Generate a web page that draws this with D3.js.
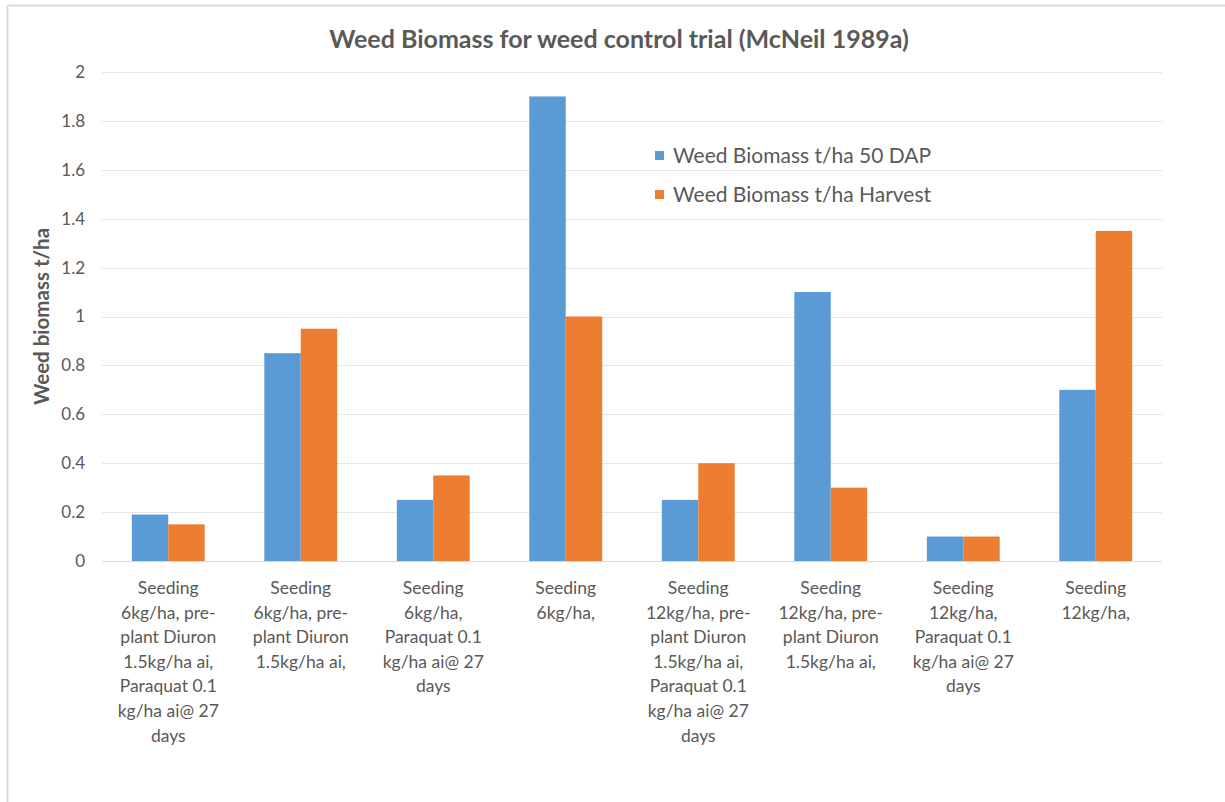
<!DOCTYPE html>
<html>
<head>
<meta charset="utf-8">
<script src="https://cdn.jsdelivr.net/npm/d3@7"></script>
<style>
  html, body { margin: 0; padding: 0; background: #fff; }
  svg { display: block; font-family: Lato, "Open Sans", sans-serif; }
</style>
</head>
<body>
<svg id="chart" width="1225" height="802"></svg>
<script>
// Treatments (x categories), each label split into its wrapped lines
const categories = [
  ["Seeding", "6kg/ha, pre-", "plant Diuron", "1.5kg/ha ai,", "Paraquat 0.1", "kg/ha ai@ 27", "days"],
  ["Seeding", "6kg/ha, pre-", "plant Diuron", "1.5kg/ha ai,"],
  ["Seeding", "6kg/ha,", "Paraquat 0.1", "kg/ha ai@ 27", "days"],
  ["Seeding", "6kg/ha,"],
  ["Seeding", "12kg/ha, pre-", "plant Diuron", "1.5kg/ha ai,", "Paraquat 0.1", "kg/ha ai@ 27", "days"],
  ["Seeding", "12kg/ha, pre-", "plant Diuron", "1.5kg/ha ai,"],
  ["Seeding", "12kg/ha,", "Paraquat 0.1", "kg/ha ai@ 27", "days"],
  ["Seeding", "12kg/ha,"]
];

const seriesNames = ["Weed Biomass t/ha 50 DAP", "Weed Biomass t/ha Harvest"];
const biomass50DAP = [0.19, 0.85, 0.25, 1.9, 0.25, 1.1, 0.1, 0.7];
const biomassHarvest = [0.15, 0.95, 0.35, 1.0, 0.4, 0.3, 0.1, 1.35];
const yTicks = [0, 0.2, 0.4, 0.6, 0.8, 1, 1.2, 1.4, 1.6, 1.8, 2];

const colors = ["#5B9BD5", "#ED7D31"];
const textColor = "#595959";

const svg = d3.select("#chart");

// outer chart frame (top and left edges)
svg.append("line").attr("x1", 7.5).attr("x2", 1225).attr("y1", 5.5).attr("y2", 5.5)
  .attr("stroke", "#d9d9d9").attr("stroke-width", 2);
svg.append("line").attr("x1", 7.5).attr("x2", 7.5).attr("y1", 5.5).attr("y2", 802)
  .attr("stroke", "#d9d9d9").attr("stroke-width", 2);

const plot = { left: 102, right: 1162, top: 72, bottom: 561 };

const x0 = d3.scaleBand()
  .domain(d3.range(categories.length))
  .range([plot.left, plot.right])
  .paddingInner(0.45)
  .paddingOuter(0.225);

const x1 = d3.scaleBand()
  .domain([0, 1])
  .range([0, x0.bandwidth()]);

const y = d3.scaleLinear().domain([0, 2]).range([plot.bottom, plot.top]);

// horizontal gridlines
svg.append("g")
  .selectAll("line")
  .data(yTicks)
  .join("line")
  .attr("x1", plot.left).attr("x2", plot.right)
  .attr("y1", d => Math.round(y(d)) + 0.5).attr("y2", d => Math.round(y(d)) + 0.5)
  .attr("stroke", "#e6e6e6").attr("stroke-width", 1.2);

// y axis tick labels
const yAxis = d3.axisLeft(y).tickValues(yTicks).tickSize(0).tickPadding(0).tickFormat(d3.format("~g"));
const gy = svg.append("g").attr("transform", `translate(${plot.left - 17},0)`).call(yAxis);
gy.select(".domain").remove();
gy.selectAll("text")
  .attr("fill", textColor)
  .attr("font-size", 17)
  .attr("font-family", "Lato, sans-serif");

// bars
const groups = svg.append("g")
  .selectAll("g")
  .data(categories.map((c, i) => i))
  .join("g")
  .attr("transform", i => `translate(${x0(i)},0)`);

groups.selectAll("rect")
  .data(i => [biomass50DAP[i], biomassHarvest[i]])
  .join("rect")
  .attr("x", (d, j) => x1(j))
  .attr("y", d => y(d))
  .attr("width", x1.bandwidth())
  .attr("height", d => y(0) - y(d))
  .attr("fill", (d, j) => colors[j]);

// baseline
svg.append("line")
  .attr("x1", plot.left).attr("x2", plot.right)
  .attr("y1", plot.bottom + 0.5).attr("y2", plot.bottom + 0.5)
  .attr("stroke", "#d9d9d9").attr("stroke-width", 1);

// category labels
const labels = svg.append("g")
  .selectAll("text")
  .data(categories)
  .join("text")
  .attr("text-anchor", "middle")
  .attr("fill", textColor)
  .attr("font-size", 17.5)
  .attr("x", (d, i) => x0(i) + x0.bandwidth() / 2)
  .attr("y", 594);
labels.selectAll("tspan")
  .data(d => d)
  .join("tspan")
  .attr("x", function () { return d3.select(this.parentNode).attr("x"); })
  .attr("dy", (d, k) => k === 0 ? 0 : 24.6)
  .text(d => d);

// title
svg.append("text")
  .attr("x", 619).attr("y", 48)
  .attr("text-anchor", "middle")
  .attr("fill", textColor)
  .attr("font-size", 25)
  .attr("font-weight", 700)
  .text("Weed Biomass for weed control trial (McNeil 1989a)");

// y axis title
svg.append("text")
  .attr("transform", `translate(49,${(plot.top + plot.bottom) / 2}) rotate(-90)`)
  .attr("text-anchor", "middle")
  .attr("fill", textColor)
  .attr("font-size", 20.5)
  .attr("font-weight", 700)
  .text("Weed biomass t/ha");

// legend
const legend = svg.append("g")
  .selectAll("g")
  .data(seriesNames)
  .join("g")
  .attr("transform", (d, i) => `translate(655,${156 + i * 39})`);
legend.append("rect")
  .attr("x", 0).attr("y", -5).attr("width", 9).attr("height", 9)
  .attr("fill", (d, i) => colors[i]);
legend.append("text")
  .attr("x", 18).attr("y", 0).attr("dy", "0.35em")
  .attr("fill", textColor)
  .attr("font-size", 21)
  .text(d => d);
</script>
</body>
</html>
